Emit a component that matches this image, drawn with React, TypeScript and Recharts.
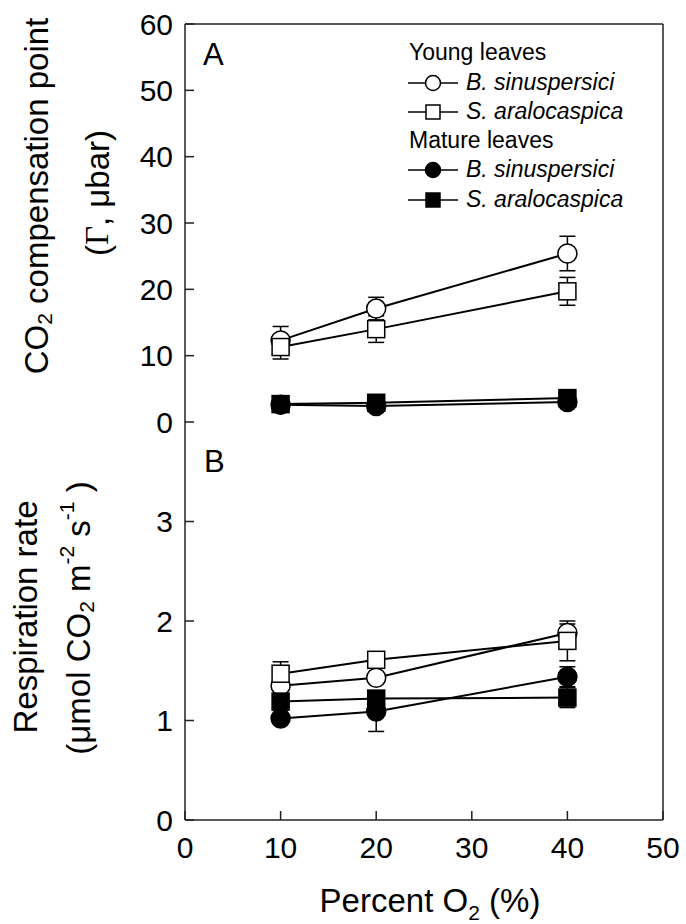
import React from 'react';
import { LineChart, Line, XAxis, YAxis, ErrorBar, ReferenceLine } from 'recharts';

// ---- shared ----
const o2Levels = [10, 20, 40];
const xTicks = [0, 10, 20, 30, 40, 50];
const yTicksA = [0, 10, 20, 30, 40, 50, 60];
const yTicksB = [0, 1, 2, 3];

// ---- Panel A: CO2 compensation point (µbar) ----
const youngBsA = [12.3, 17.1, 25.4];
const youngBsAErr = [2.1, 1.7, 2.6];
const youngSaA = [11.3, 14.0, 19.7];
const youngSaAErr = [1.8, 2.0, 2.1];
const matureBsA = [2.6, 2.4, 3.0];
const matureBsAErr = [0.3, 0.3, 0.3];
const matureSaA = [2.7, 2.9, 3.6];
const matureSaAErr = [0.3, 0.3, 0.3];

// ---- Panel B: Respiration rate ----
const youngBsB = [1.35, 1.43, 1.88];
const youngBsBErr = [0.05, 0.05, 0.09];
const youngSaB = [1.47, 1.61, 1.8];
const youngSaBErr = [0.12, 0.04, 0.2];
const matureBsB = [1.02, 1.09, 1.44];
const matureBsBErr = [0.05, 0.2, 0.1];
const matureSaB = [1.19, 1.22, 1.23];
const matureSaBErr = [0.05, 0.05, 0.1];

const buildRows = (yb, ybE, ys, ysE, mb, mbE, ms, msE) =>
  o2Levels.map((x, i) => ({
    o2: x,
    yb: yb[i], ybErr: ybE[i],
    ys: ys[i], ysErr: ysE[i],
    mb: mb[i], mbErr: mbE[i],
    ms: ms[i], msErr: msE[i],
  }));

const dataA = buildRows(youngBsA, youngBsAErr, youngSaA, youngSaAErr, matureBsA, matureBsAErr, matureSaA, matureSaAErr);
const dataB = buildRows(youngBsB, youngBsBErr, youngSaB, youngSaBErr, matureBsB, matureBsBErr, matureSaB, matureSaBErr);

const seriesDefs = [
  { key: 'yb', shape: 'circle', filled: false },
  { key: 'ys', shape: 'square', filled: false },
  { key: 'mb', shape: 'circle', filled: true },
  { key: 'ms', shape: 'square', filled: true },
];

const FONT = "'Liberation Sans', Arial, sans-serif";
const AXIS = '#222';

const makeDot = (key: string, shape: string, filled: boolean) => (props: any) => {
  const { cx, cy, index } = props;
  if (cx == null || cy == null) return <g key={`${key}-${index}`} />;
  const fill = filled ? '#000' : '#fff';
  if (shape === 'circle') {
    return <circle key={`${key}-${index}`} cx={cx} cy={cy} r={9.5} fill={fill} stroke="#000" strokeWidth={1.5} />;
  }
  return <rect key={`${key}-${index}`} x={cx - 8.5} y={cy - 8.5} width={17} height={17} fill={fill} stroke="#000" strokeWidth={1.5} />;
};

const renderSeries = () =>
  seriesDefs.map((s) => (
    <Line
      key={s.key}
      dataKey={s.key}
      stroke="#000"
      strokeWidth={2}
      isAnimationActive={false}
      dot={makeDot(s.key, s.shape, s.filled)}
      activeDot={false}
      type="linear"
    >
      <ErrorBar dataKey={`${s.key}Err`} width={8} stroke="#000" strokeWidth={1.5} direction="y" />
    </Line>
  ));

const tickStyle = { fill: '#000', fontSize: 30, fontFamily: FONT };

export default function App() {
  return (
    <div style={{ position: 'absolute', left: 0, top: 0, width: 686, height: 924, background: '#fff' }}>
      {/* Panel B (drawn first, underneath) */}
      <div style={{ position: 'absolute', left: 0, top: 400 }}>
        <LineChart width={686} height={524} data={dataB} margin={{ top: 22, right: 23, bottom: 44, left: 105 }}>
          <XAxis
            dataKey="o2"
            type="number"
            domain={[0, 50]}
            ticks={xTicks}
            interval={0}
            height={60}
            tickSize={-9}
            tickMargin={26}
            tick={tickStyle}
            axisLine={{ stroke: AXIS, strokeWidth: 1.5 }}
            tickLine={{ stroke: AXIS, strokeWidth: 1.5 }}
          />
          <YAxis
            type="number"
            domain={[0, 4]}
            ticks={yTicksB}
            interval={0}
            width={80}
            tickSize={-9}
            tickMargin={21}
            tick={tickStyle}
            axisLine={{ stroke: AXIS, strokeWidth: 1.5 }}
            tickLine={{ stroke: AXIS, strokeWidth: 1.5 }}
          />
          <ReferenceLine x={50} stroke={AXIS} strokeWidth={1.5} />
          {renderSeries()}
        </LineChart>
      </div>
      {/* Panel A */}
      <div style={{ position: 'absolute', left: 0, top: 0 }}>
        <LineChart width={686} height={450} data={dataA} margin={{ top: 24, right: 23, bottom: 28, left: 105 }}>
          <XAxis
            dataKey="o2"
            type="number"
            domain={[0, 50]}
            ticks={xTicks}
            height={0}
            tick={false}
            tickSize={-9}
            axisLine={{ stroke: AXIS, strokeWidth: 1.5 }}
            tickLine={{ stroke: AXIS, strokeWidth: 1.5 }}
          />
          <YAxis
            type="number"
            domain={[0, 60]}
            ticks={yTicksA}
            interval={0}
            width={80}
            tickSize={-9}
            tickMargin={21}
            tick={tickStyle}
            axisLine={{ stroke: AXIS, strokeWidth: 1.5 }}
            tickLine={{ stroke: AXIS, strokeWidth: 1.5 }}
          />
          <ReferenceLine y={60} stroke={AXIS} strokeWidth={1.5} />
          <ReferenceLine x={50} stroke={AXIS} strokeWidth={1.5} />
          {renderSeries()}
        </LineChart>
      </div>
      {/* Titles, panel letters and legend */}
      <svg
        width={686}
        height={924}
        style={{ position: 'absolute', left: 0, top: 0, pointerEvents: 'none' }}
        fontFamily={FONT}
      >
        {/* Panel A y title */}
        <text x={36} y={196} transform="rotate(-90 36 196)" textAnchor="middle" dominantBaseline="central" fontSize={33} fill="#000">
          CO<tspan dy={8} fontSize={21}>2</tspan><tspan dy={-8}> compensation point</tspan>
        </text>
        <text x={97} y={193} transform="rotate(-90 97 193)" textAnchor="middle" dominantBaseline="central" fontSize={33} fill="#000">
          (<tspan fontFamily="'Liberation Serif', 'Times New Roman', serif">Γ</tspan>, μbar)
        </text>
        {/* Panel B y title */}
        <text x={25} y={617} transform="rotate(-90 25 617)" textAnchor="middle" dominantBaseline="central" fontSize={33} fill="#000">
          Respiration rate
        </text>
        <text x={78} y={618} transform="rotate(-90 78 618)" textAnchor="middle" dominantBaseline="central" fontSize={33} fill="#000">
          (μmol CO<tspan dy={8} fontSize={21}>2</tspan><tspan dy={-8}> m</tspan><tspan dy={-12} fontSize={21}>-2</tspan><tspan dy={12}> s</tspan><tspan dy={-12} fontSize={21}>-1</tspan><tspan dy={12}> )</tspan>
        </text>
        {/* X title */}
        <text x={430} y={912} textAnchor="middle" fontSize={33} fill="#000">
          Percent O<tspan dy={8} fontSize={21}>2</tspan><tspan dy={-8}> (%)</tspan>
        </text>
        {/* Panel letters */}
        <text x={203} y={65} fontSize={31} fill="#000">A</text>
        <text x={204} y={472} fontSize={31} fill="#000">B</text>
        {/* Legend */}
        <g fontSize={23} fill="#000">
          <text x={409} y={60}>Young leaves</text>
          <line x1={408} x2={458} y1={83} y2={83} stroke="#000" strokeWidth={1.5} />
          <circle cx={433} cy={83} r={7.5} fill="#fff" stroke="#000" strokeWidth={1.5} />
          <text x={466} y={90} fontStyle="italic">B. sinuspersici</text>
          <line x1={408} x2={458} y1={112} y2={112} stroke="#000" strokeWidth={1.5} />
          <rect x={426} y={105} width={14} height={14} fill="#fff" stroke="#000" strokeWidth={1.5} />
          <text x={466} y={119} fontStyle="italic">S. aralocaspica</text>
          <text x={409} y={148}>Mature leaves</text>
          <line x1={408} x2={458} y1={170} y2={170} stroke="#000" strokeWidth={1.5} />
          <circle cx={433} cy={170} r={7.5} fill="#000" stroke="#000" strokeWidth={1.5} />
          <text x={466} y={177} fontStyle="italic">B. sinuspersici</text>
          <line x1={408} x2={458} y1={200} y2={200} stroke="#000" strokeWidth={1.5} />
          <rect x={426} y={193} width={14} height={14} fill="#000" stroke="#000" strokeWidth={1.5} />
          <text x={466} y={207} fontStyle="italic">S. aralocaspica</text>
        </g>
      </svg>
    </div>
  );
}
